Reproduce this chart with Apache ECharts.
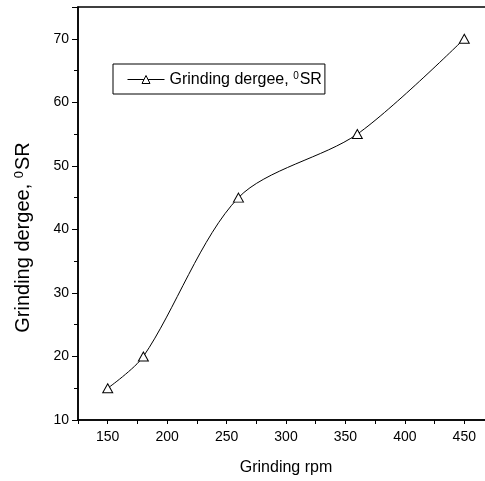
<!DOCTYPE html>
<html>
<head>
<meta charset="utf-8">
<script src="https://cdn.jsdelivr.net/npm/echarts@6/dist/echarts.min.js"></script>
<style>html,body{margin:0;padding:0;background:#fff}#c{width:485px;height:481px}</style>
</head>
<body>
<div id="c"></div>
<script>
var rpm = [150, 180, 260, 360, 450];
var degree = [15, 20, 45, 55, 70];
var seriesName = 'Grinding dergee, SR';
var xTitle = 'Grinding rpm';
var yTitle = 'Grinding dergee, {sup|0}SR';
var legendText = 'Grinding dergee, {sup|0}SR';

var FONT = "'Liberation Sans', Arial, sans-serif";
var chart = echarts.init(document.getElementById('c'), null, {renderer: 'canvas'});
var supStyle = {fontFamily: FONT, fontSize: 10, color: '#000', verticalAlign: 'top', padding: [0, 1, 0, 0]};
var supStyleY = {fontFamily: FONT, fontSize: 13, color: '#000', verticalAlign: 'top', padding: [0, 1, 0, 0]};
chart.setOption({
  animation: false,
  backgroundColor: '#fff',
  grid: {left: 78, top: 7, bottom: 61, right: -9, outerBoundsMode: 'none', containLabel: false,
    show: true, borderColor: '#000', borderWidth: 1.5, backgroundColor: 'transparent'},
  legend: {
    left: 113, top: 64,
    padding: [7, 3, 6, 14],
    borderColor: '#000', borderWidth: 1,
    itemWidth: 37, itemHeight: 10,
    itemStyle: {color: '#fff', borderColor: '#000', borderWidth: 1},
    lineStyle: {color: '#000', width: 1},
    formatter: function () { return legendText; },
    textStyle: {fontFamily: FONT, fontSize: 16, color: '#000', lineHeight: 17,
      rich: {sup: supStyle}},
    data: [seriesName]
  },
  xAxis: {
    type: 'value', min: 125, max: 475, interval: 25,
    axisLine: {show: true, lineStyle: {color: '#000', width: 1.5}},
    axisTick: {show: true, length: 4, lineStyle: {color: '#000', width: 1}},
    splitLine: {show: false},
    axisLabel: {margin: 10, fontFamily: FONT, fontSize: 14, color: '#000',
      formatter: function (v) { return v % 50 === 0 ? String(v) : ''; }},
    name: xTitle, nameLocation: 'middle', nameGap: 40,
    nameTextStyle: {fontFamily: FONT, fontSize: 16, color: '#000'}
  },
  yAxis: {
    type: 'value', min: 10, max: 75, interval: 10,
    axisLine: {show: true, lineStyle: {color: '#000', width: 1.5}},
    axisTick: {show: true, length: 6, lineStyle: {color: '#000', width: 1}},
    minorTick: {show: true, splitNumber: 2, length: 4, lineStyle: {color: '#000', width: 1}},
    splitLine: {show: false},
    axisLabel: {margin: 9, fontFamily: FONT, fontSize: 14, color: '#000', showMaxLabel: false},
    name: yTitle, nameLocation: 'middle', nameGap: 45,
    nameTextStyle: {fontFamily: FONT, fontSize: 20, color: '#000', padding: [0, 0, 0, -48],
      rich: {sup: supStyleY}}
  },
  series: [{
    name: seriesName,
    type: 'line',
    data: rpm.map(function (x, i) { return [x, degree[i]]; }),
    smooth: 0.3,
    symbol: 'triangle', symbolSize: [10, 9],
    itemStyle: {color: '#fff', borderColor: '#000', borderWidth: 1},
    lineStyle: {color: '#000', width: 1}
  }]
});
</script>
</body>
</html>
